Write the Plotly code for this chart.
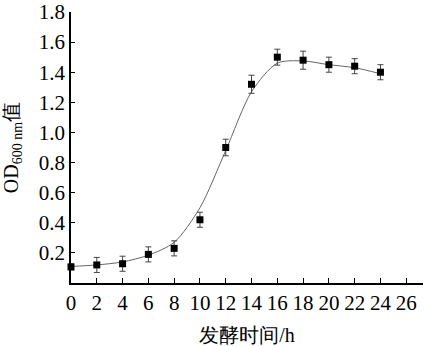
import plotly.graph_objects as go

time_h = [0, 2, 4, 6, 8, 10, 12, 14, 16, 18, 20, 22, 24]
od_values = [0.107, 0.12, 0.128, 0.19, 0.23, 0.42, 0.90, 1.32, 1.50, 1.48, 1.45, 1.44, 1.40]
od_error = [0.02, 0.05, 0.05, 0.05, 0.05, 0.05, 0.055, 0.06, 0.053, 0.06, 0.05, 0.05, 0.05]
fit_values = [0.11, 0.12, 0.14, 0.185, 0.27, 0.50, 0.88, 1.27, 1.46, 1.475, 1.45, 1.43, 1.39]

x_ticks = list(range(0, 27, 2))
y_ticks = [0.2, 0.4, 0.6, 0.8, 1.0, 1.2, 1.4, 1.6, 1.8]

font_family = "Liberation Serif"

fig = go.Figure()
fig.add_trace(go.Scatter(
    x=time_h, y=fit_values, mode="lines",
    line=dict(color="#666666", width=1, shape="spline", smoothing=0.8),
    hoverinfo="skip", showlegend=False,
))
fig.add_trace(go.Scatter(
    x=time_h, y=od_values, mode="markers",
    marker=dict(symbol="square", size=7, color="black"),
    error_y=dict(type="data", array=od_error, visible=True,
                 color="#444444", thickness=1, width=3),
    showlegend=False, cliponaxis=False,
))

fig.update_layout(
    width=426, height=346,
    margin=dict(l=71, r=3, t=12, b=63),
    paper_bgcolor="white", plot_bgcolor="white",
    font=dict(family=font_family, size=21, color="black"),
    xaxis=dict(
        range=[0, 27.3], tickvals=x_ticks, ticktext=[str(v) for v in x_ticks],
        ticks="inside", ticklen=5, tickwidth=1, tickcolor="black",
        showline=True, linecolor="black", linewidth=1.5,
        showgrid=False, zeroline=False, ticklabeloverflow="allow",
        automargin=False,
        title=dict(text="发酵时间/h", font=dict(size=20, family=font_family)),
        tickfont=dict(size=21),
    ),
    yaxis=dict(
        range=[0, 1.8], tickvals=y_ticks, ticktext=[f"{v:.1f}" for v in y_ticks],
        ticks="inside", ticklen=4, tickwidth=1, tickcolor="black",
        showline=True, linecolor="black", linewidth=1.5,
        showgrid=False, zeroline=False, ticklabeloverflow="allow",
        automargin=False,
        title=dict(text="OD<sub>600 nm</sub>值", font=dict(size=20, family=font_family)),
        tickfont=dict(size=21),
    ),
)

fig.write_html("out.html")
